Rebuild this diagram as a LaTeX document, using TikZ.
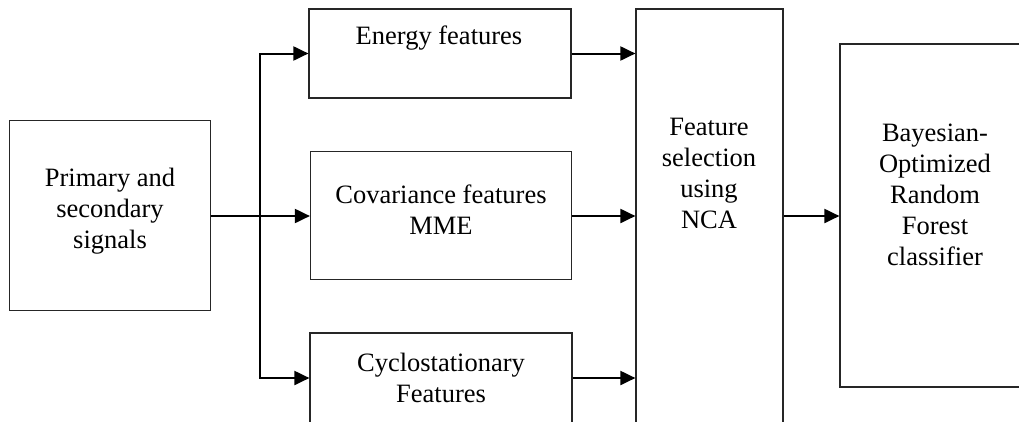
\documentclass[tikz,border=0pt]{standalone}
\usepackage{fontspec}
\setmainfont{Liberation Serif}
\usetikzlibrary{arrows.meta}
\begin{document}
\begin{tikzpicture}[x=1pt,y=-1pt,
  box/.style={draw=black!85,line width=1.2pt,rectangle,inner sep=0pt},
  txt/.style={align=center,inner sep=0pt,font=\fontsize{26.5}{31}\selectfont},
  conn/.style={line width=2pt,-{Triangle[length=15pt,width=14pt]}},
  plain/.style={line width=2pt}]
\useasboundingbox (0,0) rectangle (1019,421);
\clip (0,0) rectangle (1019,421);
\fill[white] (0,0) rectangle (1019,421);
\node[box,minimum width=201pt,minimum height=190pt] (prim) at (110,215.5) {};
\node[box,minimum width=262pt,minimum height=89pt] (energy) at (440,53.5) {};
\node[box,minimum width=261pt,minimum height=128pt] (cov) at (441,215.5) {};
\node[box,minimum width=262pt,minimum height=90pt] (cyclo) at (441,378) {};
\node[box,minimum width=147pt,minimum height=430pt] (nca) at (709.5,224) {};
\node[box,minimum width=200pt,minimum height=343pt] (bay) at (940,215.5) {};
\node[txt] (tprim) at (110,211.5) {Primary and\\secondary\\signals};
\node[txt] (tenergy) at (439,38) {Energy features};
\node[txt] (tcov) at (441,210) {Covariance features\\MME};
\node[txt] (tcyclo) at (441,378) {Cyclostationary\\Features};
\node[txt] (tnca) at (709,173.5) {Feature\\selection\\using\\NCA};
\node[txt] (tbay) at (935,194.5) {Bayesian-\\Optimized\\Random\\Forest\\classifier};
\coordinate (br) at (260,216);
\draw[plain] (prim.east |- br) -- (br);
\draw[conn] (br) -- (cov.west |- br);
\draw[conn] (br) |- (energy.west);
\draw[conn] (br) |- (cyclo.west);
\draw[conn] (energy.east) -- (energy.east -| nca.west);
\draw[conn] (cov.east |- br) -- (nca.west |- br);
\draw[conn] (cyclo.east) -- (cyclo.east -| nca.west);
\draw[conn] (nca.east |- br) -- (bay.west |- br);
\end{tikzpicture}
\end{document}
